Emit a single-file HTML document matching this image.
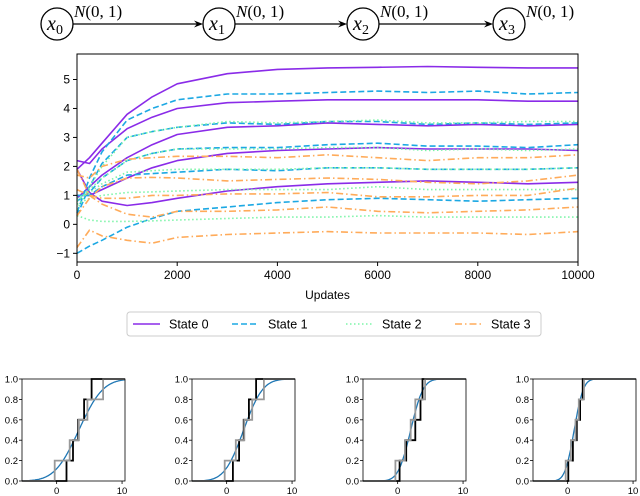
<!DOCTYPE html>
<html><head><meta charset="utf-8"><style>
body{margin:0;background:#fff;}
svg{display:block;font-family:"Liberation Sans","DejaVu Sans",sans-serif;}
.it{font-family:"Liberation Serif",serif;font-style:italic;}
</style></head><body>
<svg id="s" width="640" height="496" viewBox="0 0 640 496">
<g id="diagram"></g>
<g id="main"></g>
<g id="legend"></g>
<g id="subs"></g>
</svg>
<script>
const NS="http://www.w3.org/2000/svg";
function mk(tag,attrs,parent){const e=document.createElementNS(NS,tag);for(const k in attrs)e.setAttribute(k,attrs[k]);parent.appendChild(e);return e;}

// ---------- data ----------
const updates=[0,250,500,1000,1500,2000,3000,4000,5000,6000,7000,8000,9000,10000];
const state0=[
 [1.9,2.3,2.8,3.8,4.4,4.85,5.2,5.35,5.4,5.42,5.45,5.42,5.4,5.4],
 [2.2,2.1,2.6,3.3,3.7,4.0,4.2,4.25,4.3,4.3,4.3,4.3,4.25,4.25],
 [0.9,1.3,1.7,2.3,2.75,3.1,3.35,3.4,3.5,3.45,3.4,3.45,3.4,3.45],
 [1.0,1.0,1.2,1.6,1.95,2.2,2.45,2.55,2.6,2.65,2.6,2.6,2.6,2.55],
 [1.9,1.1,0.8,0.65,0.75,0.9,1.15,1.3,1.4,1.45,1.5,1.45,1.4,1.45]
];
const state1=[
 [0.4,1.6,2.5,3.6,4.0,4.3,4.5,4.5,4.55,4.6,4.55,4.6,4.5,4.55],
 [0.3,1.3,2.1,3.0,3.2,3.35,3.5,3.45,3.55,3.55,3.45,3.5,3.45,3.5],
 [0.8,1.1,1.6,2.2,2.45,2.6,2.65,2.65,2.75,2.8,2.7,2.7,2.65,2.75],
 [1.0,1.0,1.3,1.7,1.75,1.8,1.9,1.85,1.95,1.95,1.9,1.9,1.9,1.95],
 [-1.0,-0.75,-0.55,-0.1,0.2,0.45,0.6,0.75,0.85,0.9,0.85,0.8,0.85,0.9]
];
const state2=[
 [0.5,1.3,2.0,3.0,3.2,3.35,3.55,3.5,3.55,3.6,3.5,3.5,3.55,3.55],
 [0.8,1.2,1.6,2.2,2.45,2.6,2.6,2.6,2.65,2.65,2.55,2.6,2.55,2.6],
 [0.9,1.1,1.4,1.8,1.85,1.9,1.9,1.9,1.95,1.95,1.9,1.9,1.9,1.95],
 [0.7,0.9,1.0,1.1,1.12,1.15,1.2,1.2,1.2,1.3,1.2,1.2,1.2,1.2],
 [0.3,0.15,0.1,0.1,0.12,0.15,0.2,0.25,0.25,0.3,0.25,0.25,0.25,0.25]
];
const state3=[
 [1.7,1.6,2.0,2.25,2.3,2.35,2.35,2.3,2.4,2.3,2.2,2.3,2.3,2.4],
 [0.3,0.9,1.3,1.6,1.62,1.6,1.5,1.55,1.6,1.55,1.45,1.4,1.5,1.7],
 [1.2,1.0,0.9,0.9,1.0,1.0,1.05,1.05,1.1,0.95,0.95,1.0,1.0,1.25],
 [1.9,1.0,0.7,0.35,0.25,0.45,0.45,0.5,0.6,0.45,0.4,0.45,0.5,0.6],
 [-0.8,-0.2,-0.4,-0.55,-0.65,-0.45,-0.35,-0.3,-0.25,-0.3,-0.3,-0.3,-0.35,-0.25]
];
const xTicks=[0,2000,4000,6000,8000,10000];
const yTicks=[-1,0,1,2,3,4,5];
const stateNames=["State 0","State 1","State 2","State 3"];
// CDF subplots
const cdfMeans=[3.4,2.6,2.0,1.0];
const cdfSds=[2.9,2.3,1.5,1.1];
const blackSteps=[[1.5,2.5,3.3,4.2,5.35],[0.95,1.9,2.6,3.4,4.5],[0.3,1.3,2.7,3.5,3.8],[0.1,0.8,1.4,1.9,2.3]];
const graySteps=[[-0.3,2.0,3.4,4.7,7.1],[-0.3,1.4,2.7,3.9,5.7],[-0.35,1.1,2.0,2.7,4.2],[-0.3,0.5,1.2,1.7,2.5]];
const cdfYTicks=[0,0.2,0.4,0.6,0.8,1.0];
const cdfXTicks=[0,10];

// ---------- diagram ----------
const dg=document.getElementById('diagram');
const nodeX=[57,219,363,509];const ny=24,r=16;
nodeX.forEach((cx,i)=>{
 const c=mk('circle',{cx:cx,cy:ny,r:r,fill:'none',stroke:'#000','stroke-width':1.3},dg);
 
 const t=mk('text',{x:cx-2,y:ny+6,'text-anchor':'middle','font-size':20,class:'it'},dg);
 t.innerHTML='x<tspan font-size="14" font-style="normal" dy="4">'+i+'</tspan>';
 
 const n=mk('text',{x:cx+r+1,y:17,'font-size':17,class:'it'},dg);
 n.innerHTML='N<tspan font-style="normal">(0, 1)</tspan>';
 
 if(i<3){
  const x1=cx+r,x2=nodeX[i+1]-r;
  const l=mk('line',{x1:x1,y1:ny,x2:x2-6,y2:ny,stroke:'#000','stroke-width':1.3},dg);
  
  mk('path',{d:`M${x2} ${ny} L${x2-9} ${ny-3.5} L${x2-6} ${ny} L${x2-9} ${ny+3.5}Z`,fill:'#000'},dg);
 }
});

// ---------- main chart ----------
const g=document.getElementById('main');
const L=77,R=578,T=54,B=262,ymin=-1.3,ymax=5.88;
const sx=v=>L+(v/10000)*(R-L);
const sy=v=>B-(v-ymin)/(ymax-ymin)*(B-T);
const colors=['#8a2be8','#1ca8e3','#7cf5a8','#ffab5a'];
const dashes=['none','6,3','1.5,2.5','7,3,1.5,3'];
[state0,state1,state2,state3].forEach((st,si)=>{
 st.forEach((ser,k)=>{
  const d=ser.map((v,j)=>(j?'L':'M')+sx(updates[j]).toFixed(1)+' '+sy(v).toFixed(1)).join(' ');
  const p=mk('path',{d:d,fill:'none',stroke:colors[si],'stroke-width':1.6,'stroke-dasharray':dashes[si],'stroke-linejoin':'round'},g);
  
  
 });
});
const fr=mk('rect',{x:L,y:T,width:R-L,height:B-T,fill:'none',stroke:'#000','stroke-width':1},g);

xTicks.forEach(v=>{
 mk('line',{x1:sx(v),y1:B,x2:sx(v),y2:B+4,stroke:'#000'},g);
 const t=mk('text',{x:sx(v),y:B+17,'text-anchor':'middle','font-size':12},g);t.textContent=v;
 
});
yTicks.forEach(v=>{
 mk('line',{x1:L-4,y1:sy(v),x2:L,y2:sy(v),stroke:'#000'},g);
 const t=mk('text',{x:L-7,y:sy(v)+4,'text-anchor':'end','font-size':12},g);t.textContent=v<0?'\u2212'+(-v):v;
 
});
const xt=mk('text',{x:(L+R)/2,y:299,'text-anchor':'middle','font-size':12},g);xt.textContent='Updates';


// ---------- legend ----------
const lg=document.getElementById('legend');
mk('rect',{x:127,y:312,width:414,height:24,rx:3,fill:'#fff',stroke:'#ccc'},lg);
const lx=[133,232,346,455];
stateNames.forEach((nm,i)=>{
 const e=mk('g',{},lg);
 
 mk('line',{x1:lx[i],y1:324,x2:lx[i]+27,y2:324,stroke:colors[i],'stroke-width':1.6,'stroke-dasharray':dashes[i]},e);
 const t=mk('text',{x:lx[i]+36,y:328.5,'font-size':12.5},e);t.textContent=nm;
});

// ---------- CDF subplots ----------
function erf(x){const s=x<0?-1:1;x=Math.abs(x);const t=1/(1+0.3275911*x);
 const y=1-(((((1.061405429*t-1.453152027)*t)+1.421413741)*t-0.284496736)*t+0.254829592)*t*Math.exp(-x*x);return s*y;}
const sg=document.getElementById('subs');
const subL=[22,192,363,533],W=103,sT=379,sB=481,xlo=-5.3,xhi=10.45;
subL.forEach((x0,i)=>{
 const gg=mk('g',{},sg);
 
 const px=v=>x0+(v-xlo)/(xhi-xlo)*W;
 const py=v=>sB-v*(sB-sT);
 let d='';for(let k=0;k<=120;k++){const v=xlo+(xhi-xlo)*k/120;const c=0.5*(1+erf((v-cdfMeans[i])/(cdfSds[i]*Math.SQRT2)));d+=(k?'L':'M')+px(v).toFixed(1)+' '+py(c).toFixed(1);}
 const cur=mk('path',{d:d,fill:'none',stroke:'#1f77b4','stroke-width':1.3},gg);
 
 const step=(arr)=>{let s='M'+px(xlo)+' '+py(0);arr.forEach((v,k)=>{s+=' L'+px(v).toFixed(1)+' '+py(k/arr.length)+' L'+px(v).toFixed(1)+' '+py((k+1)/arr.length);});s+=' L'+px(xhi)+' '+py(1);return s;};
 const bs=mk('path',{d:step(blackSteps[i]),fill:'none',stroke:'#000','stroke-width':1.8},gg);
 
 const gs=mk('path',{d:step(graySteps[i]),fill:'none',stroke:'#999','stroke-width':1.8},gg);
 
 mk('rect',{x:x0,y:sT,width:W,height:sB-sT,fill:'none',stroke:'#000','stroke-width':0.8},gg);
 cdfYTicks.forEach(v=>{mk('line',{x1:x0-3,y1:py(v),x2:x0,y2:py(v),stroke:'#000','stroke-width':0.8},gg);
  const t=mk('text',{x:x0-4,y:py(v)+3.5,'text-anchor':'end','font-size':9.5},gg);t.textContent=v.toFixed(1);});
 cdfXTicks.forEach(v=>{mk('line',{x1:px(v),y1:sB,x2:px(v),y2:sB+3,stroke:'#000','stroke-width':0.8},gg);
  const t=mk('text',{x:px(v),y:sB+13,'text-anchor':'middle','font-size':9.5},gg);t.textContent=v;});
});
</script>
</body></html>
